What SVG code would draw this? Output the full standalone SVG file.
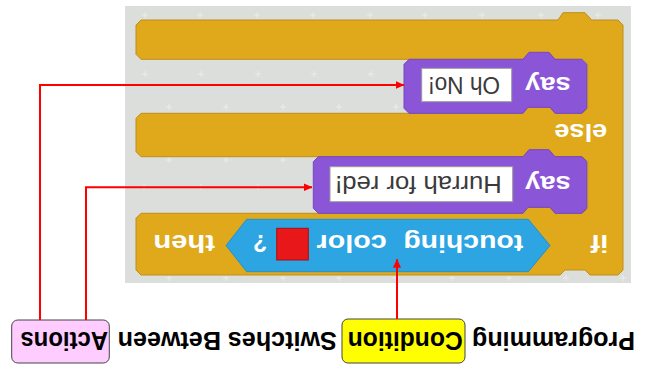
<svg xmlns="http://www.w3.org/2000/svg" width="651" height="367" viewBox="0 0 651 367">
  <style>
    .lbl { font-family: "Liberation Sans", Arial, sans-serif; font-weight: bold; font-size: 26px; fill: #000; }
    .blk { font-family: "Liberation Sans", Arial, sans-serif; font-weight: bold; font-size: 23px; fill: #fff; }
    .inp { font-family: "Liberation Sans", Arial, sans-serif; font-size: 23px; fill: #3a3a3a; }
    .gold { fill: #e0a91c; stroke: #c08e18; stroke-width: 1; }
    .purple { fill: #8a55d7; stroke: #7446c0; stroke-width: 1; }
    .blue { fill: #2ca5e2; stroke: #2590c8; stroke-width: 1; }
    .field { fill: #ffffff; stroke: #9a9a9a; stroke-width: 1; }
    .conn { fill: none; stroke: #ff0000; stroke-width: 2; }
    .plus { stroke: #ebeceb; stroke-width: 1; fill: none; }
  </style>
  <defs>
    <marker id="arrow" markerUnits="userSpaceOnUse" markerWidth="9" markerHeight="8" refX="8.5" refY="4" orient="auto">
      <path d="M0,0 L9,4 L0,8 Z" fill="#ff0000"/>
    </marker>
    <path id="pl" d="M-3,0 H3 M0,-3 V3"/>
  </defs>
  <g transform="rotate(180 325.5 183.5)">
    <g id="script-area">
      <rect x="20" y="84" width="506" height="277" fill="#dcdedc"/>
      <g class="plus">
        <use href="#pl" x="506" y="352"/><use href="#pl" x="451" y="352"/><use href="#pl" x="394" y="352"/><use href="#pl" x="338" y="352"/><use href="#pl" x="281" y="352"/><use href="#pl" x="226" y="352"/><use href="#pl" x="169" y="352"/><use href="#pl" x="110" y="352"/><use href="#pl" x="53" y="352"/>
        <use href="#pl" x="506" y="293"/><use href="#pl" x="450" y="293"/><use href="#pl" x="393" y="293"/><use href="#pl" x="337" y="293"/><use href="#pl" x="280" y="293"/>
        <use href="#pl" x="482" y="260"/><use href="#pl" x="425" y="260"/><use href="#pl" x="368" y="260"/><use href="#pl" x="312" y="260"/><use href="#pl" x="255" y="260"/>
        <use href="#pl" x="482" y="207"/><use href="#pl" x="425" y="207"/><use href="#pl" x="368" y="207"/>
        <use href="#pl" x="507" y="180"/><use href="#pl" x="450" y="180"/><use href="#pl" x="393" y="180"/>
        <use href="#pl" x="482" y="89"/><use href="#pl" x="425" y="89"/><use href="#pl" x="368" y="89"/><use href="#pl" x="312" y="89"/><use href="#pl" x="255" y="89"/><use href="#pl" x="199" y="89"/><use href="#pl" x="142" y="89"/><use href="#pl" x="85" y="89"/><use href="#pl" x="28" y="89"/>
      </g>
    </g>
    <g id="if-else-block">
      <path class="gold" d="M28,97 L33,92 L61,92 L66,97 L86,97 L91,92 L510,92 L515,97 L515,148.7 L510,153.7 L128,153.7 L123,159.7 L101,159.7 L96,153.7 L68.3,153.7 L63.3,158.7 L63.3,205.3 L68.3,210.3 L510,210.3 L515,215.3 L515,248.7 L510,253.7 L128,253.7 L123,259.7 L101,259.7 L96,253.7 L68.3,253.7 L63.3,258.7 L63.3,302.7 L68.3,307.7 L510,307.7 L515,312.7 L515,342 L510,347 L93,347 L88,354.3 L66,354.3 L59.3,347 L33,347 L28,342 Z"/>
      <text class="blk" x="42.7" y="132" textLength="17.6" lengthAdjust="spacingAndGlyphs">if</text>
      <text class="blk" x="436" y="132" textLength="61.7" lengthAdjust="spacingAndGlyphs">then</text>
      <text class="blk" x="43.7" y="243" textLength="53" lengthAdjust="spacingAndGlyphs">else</text>
    </g>
    <g id="touching-color">
      <path class="blue" d="M101,121.5 L122.7,95.3 L404.3,95.3 L425,121.5 L404.3,147.7 L122.7,147.7 Z"/>
      <text class="blk" x="127.7" y="132" textLength="120" lengthAdjust="spacingAndGlyphs">touching</text>
      <text class="blk" x="264.3" y="132" textLength="70" lengthAdjust="spacingAndGlyphs">color</text>
      <rect x="342.7" y="107" width="31.6" height="31.7" fill="#e8171a" stroke="#a81012" stroke-width="1"/>
      <text class="blk" x="384" y="132" textLength="14" lengthAdjust="spacingAndGlyphs">?</text>
    </g>
    <g id="say-hurrah">
      <path class="purple" d="M64.3,158.7 L69.3,153.7 L96,153.7 L101,159.7 L123,159.7 L128,153.7 L332.7,153.7 L337.7,158.7 L337.7,205.3 L332.7,210.3 L128,210.3 L122,217.3 L102,217.3 L96,210.3 L69.3,210.3 L64.3,205.3 Z"/>
      <text class="blk" x="80.3" y="191" textLength="45.7" lengthAdjust="spacingAndGlyphs">say</text>
      <rect class="field" x="138.3" y="165.3" width="182.7" height="35"/>
      <text class="inp" x="149.3" y="190.8" textLength="166.5" lengthAdjust="spacingAndGlyphs">Hurrah for red!</text>
    </g>
    <g id="say-oh-no">
      <path class="purple" d="M64.3,258.7 L69.3,253.7 L96,253.7 L101,259.7 L123,259.7 L128,253.7 L242,253.7 L247,258.7 L247,302.7 L242,307.7 L128,307.7 L122,314.7 L102,314.7 L96,307.7 L69.3,307.7 L64.3,302.7 Z"/>
      <text class="blk" x="80.3" y="290" textLength="45.7" lengthAdjust="spacingAndGlyphs">say</text>
      <rect class="field" x="139.3" y="265.3" width="90" height="33.4"/>
      <text class="inp" x="151" y="290.3" textLength="71.7" lengthAdjust="spacingAndGlyphs">Oh No!</text>
    </g>
    <g id="caption">
      <text class="lbl" x="16" y="35.3" textLength="163" lengthAdjust="spacingAndGlyphs">Programming</text>
      <text class="lbl" x="314.3" y="35.3" textLength="219" lengthAdjust="spacingAndGlyphs">Switches Between</text>
    </g>
    <g id="condition-label">
      <rect x="186" y="4" width="123" height="44" rx="6" fill="#ffff00" stroke="#444" stroke-width="1"/>
      <text class="lbl" x="188.3" y="35.3" textLength="115" lengthAdjust="spacingAndGlyphs">Condition</text>
    </g>
    <g id="actions-label">
      <rect x="541.7" y="4" width="97.6" height="43" rx="6" fill="#ffccff" stroke="#444" stroke-width="1"/>
      <text class="lbl" x="543" y="35.3" textLength="87.5" lengthAdjust="spacingAndGlyphs">Actions</text>
    </g>
    <g id="connectors">
      <polyline class="conn" points="611,47 611,282 247,282" marker-end="url(#arrow)"/>
      <polyline class="conn" points="565,47 565,179.7 339,179.7" marker-end="url(#arrow)"/>
      <polyline class="conn" points="254,48 254,107.7" marker-end="url(#arrow)"/>
    </g>
  </g>
</svg>
